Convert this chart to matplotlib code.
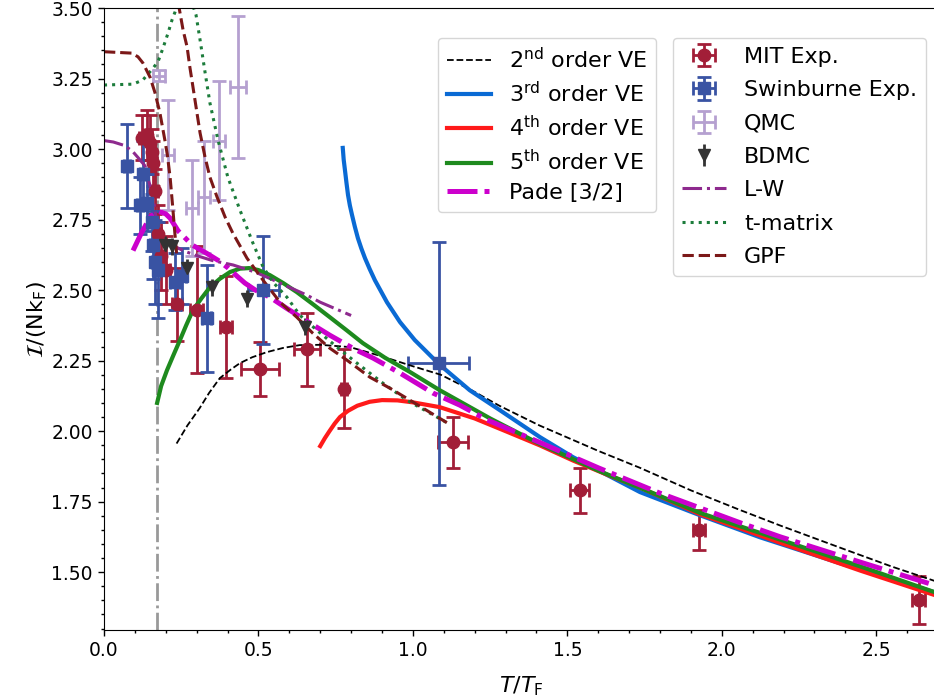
import matplotlib
matplotlib.use('Agg')
import matplotlib.pyplot as plt

# ---------------- data ----------------
Tc = 0.171

# MIT experiment
mit_T = [0.123, 0.14, 0.15, 0.155, 0.16, 0.165, 0.175, 0.185, 0.20, 0.236, 0.30, 0.395,
         0.505, 0.657, 0.777, 1.13, 1.54, 1.926, 2.637]
mit_I = [3.04, 3.05, 3.02, 2.99, 2.95, 2.85, 2.70, 2.62, 2.57, 2.45, 2.43, 2.37,
         2.22, 2.29, 2.15, 1.96, 1.79, 1.65, 1.40]
mit_dT = [0.01, 0.01, 0.01, 0.01, 0.01, 0.01, 0.01, 0.01, 0.015, 0.015, 0.02, 0.02,
          0.063, 0.042, 0.01, 0.05, 0.03, 0.02, 0.02]
mit_dI = [0.08, 0.09, 0.10, 0.08, 0.08, 0.08, 0.10, 0.12, 0.12, 0.13, 0.225, 0.18,
          0.097, 0.13, 0.14, 0.089, 0.08, 0.07, 0.085]

# Swinburne experiment
swin_T = [0.074, 0.117, 0.126, 0.14, 0.155, 0.158, 0.165, 0.175, 0.23, 0.252, 0.333, 0.515, 1.084]
swin_I = [2.94, 2.80, 2.91, 2.81, 2.74, 2.66, 2.60, 2.57, 2.53, 2.55, 2.40, 2.50, 2.24]
swin_dT = [0.01, 0.01, 0.01, 0.01, 0.01, 0.01, 0.01, 0.01, 0.015, 0.015, 0.015, 0.05, 0.099]
swin_dI = [0.15, 0.10, 0.12, 0.10, 0.10, 0.12, 0.15, 0.17, 0.10, 0.10, 0.19, 0.19, 0.43]

# QMC
qmc_T = [0.178, 0.207, 0.285, 0.324, 0.372, 0.434]
qmc_I = [3.26, 2.98, 2.79, 2.83, 3.03, 3.22]
qmc_dT = [0.02, 0.02, 0.02, 0.02, 0.02, 0.026]
qmc_dI = [0.02, 0.195, 0.17, 0.20, 0.21, 0.25]

# BDMC
bdmc_T = [0.197, 0.22, 0.27, 0.35, 0.463, 0.65]
bdmc_I = [2.66, 2.655, 2.58, 2.51, 2.47, 2.37]
bdmc_dI = [0.03, 0.03, 0.03, 0.03, 0.03, 0.03]

# virial expansion curves
ve2_T = [0.235, 0.27, 0.31, 0.34, 0.375, 0.41, 0.44, 0.48, 0.527, 0.58, 0.634, 0.70, 0.796,
         0.9, 1.0, 1.09, 1.19, 1.28, 1.41, 1.6, 1.735, 1.9, 2.06, 2.19, 2.4, 2.55, 2.7]
ve2_I = [1.956, 2.02, 2.082, 2.135, 2.188, 2.218, 2.241, 2.262, 2.28, 2.295, 2.305, 2.306, 2.298,
         2.265, 2.23, 2.20, 2.145, 2.09, 2.02, 1.93, 1.87, 1.79, 1.72, 1.665, 1.58, 1.52, 1.465]

ve3_T = [0.773, 0.776, 0.78, 0.785, 0.79, 0.796, 0.803, 0.812, 0.822, 0.833, 0.845, 0.86,
         0.877, 0.916, 0.958, 1.006, 1.084, 1.184, 1.282, 1.411, 1.518, 1.735, 1.929, 2.123,
         2.382, 2.7]
ve3_I = [3.004, 2.962, 2.926, 2.88, 2.837, 2.80, 2.766, 2.725, 2.684, 2.648, 2.613, 2.575,
         2.535, 2.457, 2.387, 2.323, 2.238, 2.145, 2.074, 1.979, 1.908, 1.784, 1.702, 1.624,
         1.532, 1.425]

ve4_T = [0.70, 0.715, 0.73, 0.747, 0.764, 0.79, 0.82, 0.86, 0.9, 0.95, 1.0, 1.087, 1.2, 1.3,
         1.41, 1.52, 1.63, 1.735, 1.93, 2.06, 2.2, 2.45, 2.7]
ve4_I = [1.947, 1.975, 2.0, 2.027, 2.05, 2.072, 2.09, 2.104, 2.11, 2.109, 2.102, 2.085, 2.045, 2.0,
         1.95, 1.895, 1.845, 1.80, 1.705, 1.655, 1.60, 1.505, 1.415]

ve5_T = [0.172, 0.185, 0.204, 0.225, 0.246, 0.266, 0.288, 0.315, 0.343, 0.375, 0.408, 0.44,
         0.47, 0.50, 0.537, 0.58, 0.624, 0.68, 0.731, 0.785, 0.838, 0.91, 0.99, 1.087, 1.25,
         1.41, 1.6, 1.8, 1.93, 2.19, 2.45, 2.7]
ve5_I = [2.10, 2.16, 2.216, 2.27, 2.323, 2.375, 2.429, 2.47, 2.51, 2.54, 2.564, 2.576,
         2.578, 2.571, 2.553, 2.525, 2.493, 2.447, 2.404, 2.358, 2.312, 2.26, 2.21, 2.145, 2.045,
         1.955, 1.86, 1.77, 1.71, 1.615, 1.52, 1.425]

pade_T = [0.094, 0.12, 0.15, 0.175, 0.2, 0.214, 0.24, 0.285, 0.333, 0.37, 0.40, 0.43, 0.456,
          0.49, 0.537, 0.592, 0.667, 0.731, 0.812, 0.871, 0.958, 1.065, 1.152, 1.24, 1.4,
          1.6, 1.8, 2.06, 2.19, 2.45, 2.7]
pade_I = [2.64, 2.70, 2.76, 2.78, 2.77, 2.755, 2.71, 2.66, 2.63, 2.605, 2.58, 2.55, 2.525,
          2.50, 2.475, 2.435, 2.383, 2.34, 2.29, 2.259, 2.206, 2.135, 2.092, 2.04, 1.965,
          1.87, 1.78, 1.675, 1.625, 1.535, 1.45]

# other theories
lw_T = [0.0, 0.03, 0.068, 0.094, 0.11, 0.133, 0.149, 0.159, 0.175, 0.204, 0.22, 0.256,
        0.295, 0.35, 0.418, 0.489, 0.527, 0.6, 0.657, 0.7, 0.8]
lw_I = [3.03, 3.025, 3.012, 2.99, 2.97, 2.94, 2.87, 2.826, 2.71, 2.667, 2.66, 2.64,
        2.624, 2.605, 2.589, 2.564, 2.546, 2.51, 2.482, 2.457, 2.41]

tmat_T = [0.0, 0.094, 0.126, 0.159, 0.175, 0.191, 0.207, 0.22, 0.23, 0.26, 0.298, 0.311,
          0.327, 0.343, 0.369, 0.401, 0.44, 0.482, 0.515, 0.547, 0.592, 0.634, 0.689,
          0.754, 0.819, 0.903, 0.98, 1.11]
tmat_I = [3.227, 3.23, 3.245, 3.287, 3.31, 3.358, 3.41, 3.457, 3.486, 3.6, 3.475, 3.387,
          3.273, 3.163, 3.032, 2.90, 2.784, 2.667, 2.582, 2.528, 2.475, 2.411, 2.358,
          2.298, 2.241, 2.17, 2.11, 2.03]

gpf1_T = [0.0, 0.09, 0.11, 0.126, 0.149, 0.165, 0.181, 0.197, 0.205, 0.214, 0.222, 0.228, 0.235]
gpf1_I = [3.345, 3.34, 3.327, 3.305, 3.255, 3.20, 3.128, 3.032, 2.98, 2.90, 2.80, 2.72, 2.63]
gpf2_T = [0.24, 0.256, 0.269, 0.278, 0.288, 0.311, 0.327, 0.343, 0.366, 0.392, 0.417,
          0.463, 0.515, 0.57, 0.624, 0.676, 0.731, 0.786, 0.861, 0.926, 0.99, 1.11]
gpf2_I = [3.52, 3.422, 3.362, 3.29, 3.22, 3.057, 2.972, 2.90, 2.83, 2.759, 2.702,
          2.613, 2.535, 2.457, 2.404, 2.347, 2.294, 2.252, 2.191, 2.152, 2.11, 2.03]

# ---------------- plot ----------------
fig = plt.figure(figsize=(9.34, 6.98), dpi=100)
ax = fig.add_axes([104 / 934, 68 / 698, 834 / 934, 622 / 698])

ax.axvline(Tc, color='#999999', ls='-.', lw=2, zorder=1)

h_mit = ax.errorbar(mit_T, mit_I, xerr=mit_dT, yerr=mit_dI, fmt='o', ms=9, color='#a21e38',
                    elinewidth=2, capsize=5, capthick=2, label='MIT Exp.')
h_swin = ax.errorbar(swin_T, swin_I, xerr=swin_dT, yerr=swin_dI, fmt='s', ms=8.5, color='#3953a3',
                     elinewidth=2, capsize=5, capthick=2, label='Swinburne Exp.')
h_qmc = ax.errorbar(qmc_T, qmc_I, xerr=qmc_dT, yerr=qmc_dI, fmt='none', color='#b5a0d0',
                    elinewidth=2, capsize=5, capthick=2, label='QMC')
h_bdmc = ax.errorbar(bdmc_T, bdmc_I, yerr=bdmc_dI, fmt='v', ms=9, color='#333333',
                     elinewidth=2, capsize=0, label='BDMC')

l2, = ax.plot(ve2_T, ve2_I, '--', color='k', lw=1.3, label=r'2$^{\rm nd}$ order VE')
l3, = ax.plot(ve3_T, ve3_I, '-', color='#0a6ad4', lw=3, label=r'3$^{\rm rd}$ order VE')
l4, = ax.plot(ve4_T, ve4_I, '-', color='#ff1a1a', lw=3, label=r'4$^{\rm th}$ order VE')
l5, = ax.plot(ve5_T, ve5_I, '-', color='#1e8a1e', lw=3, label=r'5$^{\rm th}$ order VE')
lp, = ax.plot(pade_T, pade_I, color='#cc00cc', lw=3.6, dashes=(6, 1.4, 1, 1.4), label='Pade [3/2]')

llw, = ax.plot(lw_T, lw_I, '-.', color='#8e2a8e', lw=2.2, label='L-W')
ltm, = ax.plot(tmat_T, tmat_I, ':', color='#1c7c3b', lw=2.2, label='t-matrix')
lg, = ax.plot(gpf1_T, gpf1_I, '--', color='#7b1818', lw=2.2, label='GPF')
ax.plot(gpf2_T, gpf2_I, '--', color='#7b1818', lw=2.2)

ax.set_xlim(0, 2.7)
ax.set_ylim(1.295, 3.5)
ax.set_xticks([0.0, 0.5, 1.0, 1.5, 2.0, 2.5])
ax.set_yticks([1.50, 1.75, 2.00, 2.25, 2.50, 2.75, 3.00, 3.25, 3.50])
ax.set_yticklabels(['1.50', '1.75', '2.00', '2.25', '2.50', '2.75', '3.00', '3.25', '3.50'])
ax.minorticks_on()
ax.tick_params(which='major', labelsize=13.5, length=4.5, width=1)
ax.tick_params(which='minor', length=2.5, width=1)
ax.spines['right'].set_visible(False)

ax.set_xlabel(r'$T/T_{\rm F}$', fontsize=16, labelpad=10)
ax.set_ylabel(r'$\mathcal{I}/(\mathrm{Nk}_\mathrm{F})$', fontsize=16, labelpad=2)

fig.legend(handles=[l2, l3, l4, l5, lp], loc='upper left', bbox_to_anchor=(438 / 934, 1 - 38 / 698),
           bbox_transform=fig.transFigure, borderaxespad=0, fontsize=16, labelspacing=0.4)
fig.legend(handles=[h_mit, h_swin, h_qmc, h_bdmc, llw, ltm, lg], loc='upper left',
           bbox_to_anchor=(673 / 934, 1 - 38 / 698), bbox_transform=fig.transFigure,
           borderaxespad=0, fontsize=16, labelspacing=0.6)

fig.savefig('out.png', dpi=100)
